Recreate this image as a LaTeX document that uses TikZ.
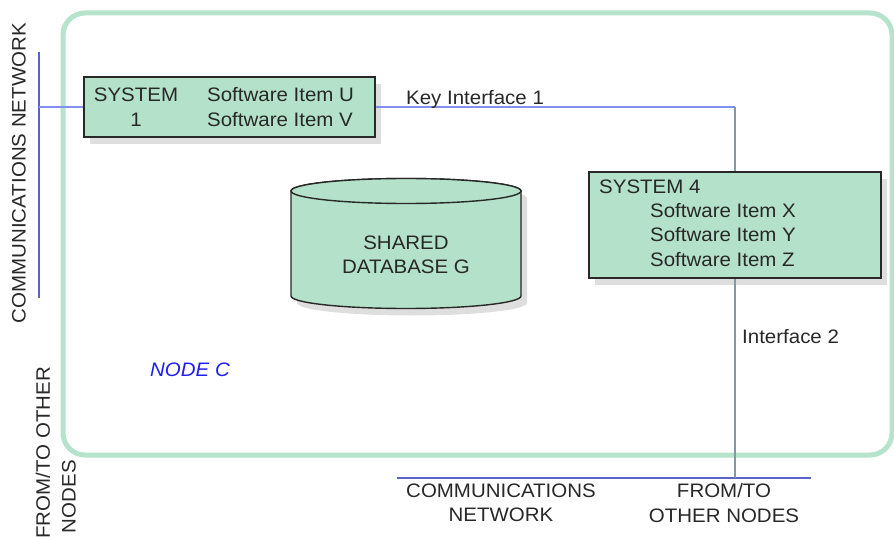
\documentclass[tikz,border=0pt]{standalone}
\usepackage{fontspec}
\setmainfont[FakeStretch=1.05]{Liberation Sans}
\usetikzlibrary{shadows}
\definecolor{boxgreen}{RGB}{179,225,201}
\definecolor{framegreen}{RGB}{181,227,204}
\definecolor{netblue}{RGB}{90,100,200}
\definecolor{linkblue}{RGB}{130,145,240}
\definecolor{linkgray}{RGB}{128,152,168}
\definecolor{labelblue}{RGB}{30,30,240}
\definecolor{ink}{RGB}{40,40,40}
\tikzset{
  txt/.style={font=\fontsize{19.5}{24.5}\selectfont, text=ink, inner sep=0pt},
  sysbox/.style={draw=ink, line width=1.6pt, fill=boxgreen,
    drop shadow={shadow xshift=6pt, shadow yshift=-7pt, fill=black!13, opacity=1}},
  netline/.style={draw=netblue, line width=1.4pt},
  linkline/.style={draw=linkblue, line width=1.8pt},
  grayline/.style={draw=linkgray, line width=1.6pt},
}
\begin{document}
\begin{tikzpicture}[x=1pt, y=-1pt]
\useasboundingbox (0,0) rectangle (894,537);

% node boundary
\draw[framegreen, line width=5pt, rounded corners=22pt] (63,13) rectangle (892,455);

% network lines
\coordinate (netLtop) at (39,52);
\coordinate (netLbot) at (39,298);
\draw[netline] (netLtop) -- (netLbot);
\coordinate (netBl) at (397,478);
\coordinate (netBr) at (811,478);
\draw[netline] (netBl) -- (netBr);

% network labels
\node[txt, rotate=90, anchor=east] (netLlabel) at (19,23) {COMMUNICATIONS NETWORK};
\node[txt, rotate=90, anchor=east] (fromL1) at (43,367) {FROM/TO OTHER};
\node[txt, rotate=90, anchor=east] (fromL2) at (69,460) {NODES};
\node[txt, align=center] (netBlabel) at (501,503) {COMMUNICATIONS\\NETWORK};
\node[txt, align=center] (fromB) at (724,503) {FROM/TO\\OTHER NODES};

% systems
\node[sysbox, minimum width=291pt, minimum height=60pt] (sys1) at (229.5,107) {};
\node[txt, align=center] (sys1name) at (136,107) {SYSTEM\\1};
\node[txt, align=left, anchor=west] (sys1items) at (207,107) {Software Item U\\Software Item V};

\node[sysbox, minimum width=292pt, minimum height=106pt] (sys4) at (735,225) {};
\node[txt, anchor=west] (sys4name) at (599,187) {SYSTEM 4};
\node[txt, align=left, anchor=north west] (sys4items) at (650,203) {Software Item X\\Software Item Y\\Software Item Z};

% shared database
\path[fill=boxgreen, draw=ink, line width=1.4pt,
  drop shadow={shadow xshift=6pt, shadow yshift=-7pt, fill=black!13, opacity=1}]
  (291,191) -- (291,296) arc[start angle=180, end angle=0, x radius=115, y radius=12.5]
  -- (521,191) arc[start angle=0, end angle=-180, x radius=115, y radius=12.5] -- cycle;
\draw[fill=boxgreen, draw=ink, line width=1.4pt] (406,191) ellipse[x radius=115, y radius=12.5];
\node[txt, align=center] (db) at (406,255) {SHARED\\DATABASE G};

% interfaces
\coordinate (bend) at (sys4.north |- sys1.east);
\draw[linkline] (sys1.west) -- (netLtop |- sys1.west);
\draw[linkline] (sys1.east) -- (bend);
\draw[grayline] (bend) -- (sys4.north);
\draw[grayline] (sys4.south) -- (sys4.south |- netBl);
\node[txt, anchor=west] (key1) at (406,99) {Key Interface 1};
\node[txt, anchor=west] (if2) at (742,337) {Interface 2};

% node name
\node[txt, text=labelblue, font=\fontsize{19.5}{24}\selectfont\itshape, anchor=west] (nodeC) at (150,370) {NODE C};
\end{tikzpicture}
\end{document}
